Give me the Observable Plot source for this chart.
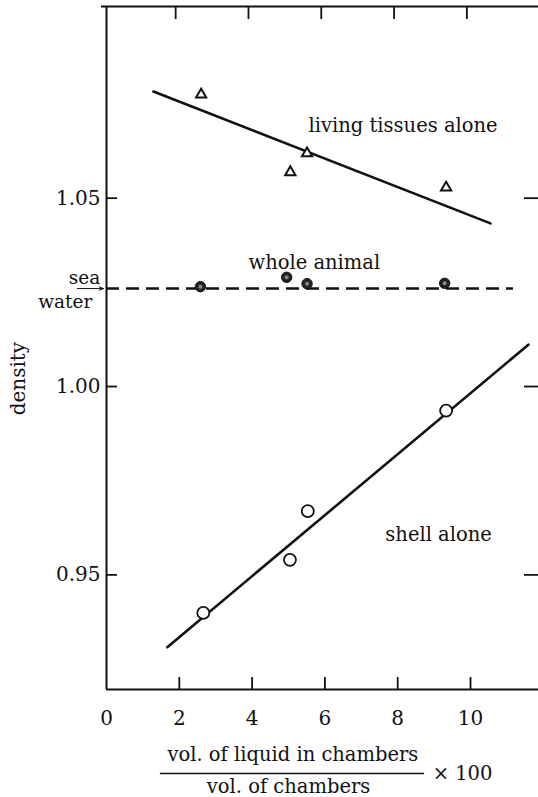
<!DOCTYPE html>
<html>
<head>
<meta charset="utf-8">
<script src="https://cdn.jsdelivr.net/npm/d3@7"></script>
<script src="https://cdn.jsdelivr.net/npm/@observablehq/plot@0.6"></script>
<style>
  html, body { margin: 0; padding: 0; background: #fff; }
</style>
</head>
<body>
<div id="chart"></div>
<script>
// Density of the animal, its tissues and its shell against chamber liquid content
const xTicks = [2, 4, 6, 8, 10];
const xLabels = [0, 2, 4, 6, 8, 10];
const yTicks = [0.95, 1.00, 1.05];

const livingX = [2.60, 5.05, 5.51, 9.33];
const livingY = [1.0775, 1.0569, 1.0619, 1.0528];
const wholeX = [2.58, 4.95, 5.51, 9.29];
const wholeY = [1.0265, 1.0290, 1.0273, 1.0274];
const shellX = [2.66, 5.04, 5.53, 9.33];
const shellY = [0.9399, 0.9540, 0.9669, 0.9936];

// fitted lines (end points) and sea-water reference level
const livingFitX = [1.29, 10.55];
const livingFitY = [1.0783, 1.0433];
const shellFitX = [1.67, 11.59];
const shellFitY = [0.9308, 1.0111];
const seaWater = 1.026;
const seaWaterX = [0, 11.18];

const W = 538, H = 797;
const mL = 106, mR = 0, mT = 6, mB = 108;
const xDomain = [0, 11.868];
const yDomain = [0.91957, 1.10088];
const dx = (xDomain[1] - xDomain[0]) / (W - mL - mR); // data units per px
const dy = (yDomain[1] - yDomain[0]) / (H - mT - mB);

const font = "DejaVu Serif, serif";
const ink = "#111";

const pts = (xs, ys) => xs.map((x, i) => ({x, y: ys[i]}));
const living = pts(livingX, livingY);
const whole = pts(wholeX, wholeY);
const shell = pts(shellX, shellY);

const [x0, x1] = xDomain, [y0, y1] = yDomain;

const chart = Plot.plot({
  width: W,
  height: H,
  marginLeft: mL,
  marginRight: mR,
  marginTop: mT,
  marginBottom: mB,
  x: {domain: xDomain, axis: null},
  y: {domain: yDomain, axis: null},
  style: {fontFamily: font, background: "#fff", color: ink, overflow: "visible"},
  marks: [
    // frame: left, top and bottom edges
    Plot.ruleX([x0], {y1: y0, y2: y1, stroke: ink, strokeWidth: 2}),
    Plot.ruleY([y1], {x1: x0 - 5 * dx, x2: x1, stroke: ink, strokeWidth: 2}),
    Plot.ruleY([y0], {x1: x0, x2: x1, stroke: ink, strokeWidth: 2}),
    // inward ticks
    Plot.ruleX(xTicks, {y1: y0, y2: y0 + 12 * dy, stroke: ink, strokeWidth: 1.8}),
    Plot.ruleX(xTicks, {x: d => d - 0.1, y1: y1, y2: y1 - 13 * dy, stroke: ink, strokeWidth: 1.8}),
    Plot.ruleY(yTicks, {x1: x0, x2: x0 + 11 * dx, stroke: ink, strokeWidth: 1.8}),
    Plot.ruleY(yTicks, {x1: x1, x2: x1 - 14 * dx, stroke: ink, strokeWidth: 1.8}),
    // tick labels
    Plot.axisX(xLabels, {anchor: "bottom", tickSize: 0, tickPadding: 21, fontSize: 20, fontFamily: font, fill: ink, label: null, tickFormat: d => String(d)}),
    Plot.axisY(yTicks, {anchor: "left", tickSize: 0, tickPadding: 6, fontSize: 20, fontFamily: font, fill: ink, label: null, tickFormat: d3.format(".2f")}),
    // sea-water level
    Plot.ruleY([seaWater], {x1: seaWaterX[0], x2: seaWaterX[1], stroke: ink, strokeWidth: 2.5, strokeDasharray: "13,7"}),
    Plot.arrow([{a: -0.8, b: -0.08}], {x1: "a", x2: "b", y1: seaWater, y2: seaWater, stroke: ink, strokeWidth: 1, headLength: 7, headAngle: 40}),
    Plot.text(["sea"], {x: -0.17, y: 1.0287, text: d => d, textAnchor: "end", fontSize: 18.5, fontFamily: font, fill: ink}),
    Plot.text(["water"], {x: -0.39, y: 1.0223, text: d => d, textAnchor: "end", fontSize: 18.5, fontFamily: font, fill: ink}),
    // fitted lines
    Plot.line(pts(livingFitX, livingFitY), {x: "x", y: "y", stroke: ink, strokeWidth: 2.6}),
    Plot.line(pts(shellFitX, shellFitY), {x: "x", y: "y", stroke: ink, strokeWidth: 2.6}),
    // observations
    Plot.dot(living, {x: "x", y: "y", symbol: "triangle", r: 3.8, stroke: ink, strokeWidth: 2, fill: "#fff"}),
    Plot.dot(whole, {x: "x", y: "y", r: 5.2, fill: "#222", stroke: ink, strokeWidth: 1}),
    Plot.dot(whole, {x: "x", y: "y", r: 2, fill: "#888"}),
    Plot.dot(shell, {x: "x", y: "y", r: 6, stroke: ink, strokeWidth: 1.8, fill: "#fff"}),
    // series annotations
    Plot.text(["living tissues alone"], {x: 5.55, y: 1.0693, text: d => d, textAnchor: "start", fontSize: 19.5, fontFamily: font, fill: ink}),
    Plot.text(["whole animal"], {x: 3.90, y: 1.0329, text: d => d, textAnchor: "start", fontSize: 19.5, fontFamily: font, fill: ink}),
    Plot.text(["shell alone"], {x: 7.66, y: 0.9607, text: d => d, textAnchor: "start", fontSize: 19.5, fontFamily: font, fill: ink}),
    // axis titles
    Plot.text(["density"], {x: -2.42, y: 1.0021, text: d => d, rotate: -90, fontSize: 20, fontFamily: font, fill: ink}),
    Plot.text(["vol. of liquid in chambers"], {x: 5.12, y: 0.9022, text: d => d, fontSize: 19.5, fontFamily: font, fill: ink}),
    Plot.ruleY([0.8973], {x1: 1.48, x2: 8.74, stroke: ink, strokeWidth: 1.5}),
    Plot.text(["vol. of chambers"], {x: 5.0, y: 0.8937, text: d => d, fontSize: 19.5, fontFamily: font, fill: ink}),
    Plot.text(["× 100"], {x: 8.96, y: 0.8973, text: d => d, textAnchor: "start", fontSize: 19.5, fontFamily: font, fill: ink})
  ]
});

document.getElementById("chart").appendChild(chart);
</script>
</body>
</html>
